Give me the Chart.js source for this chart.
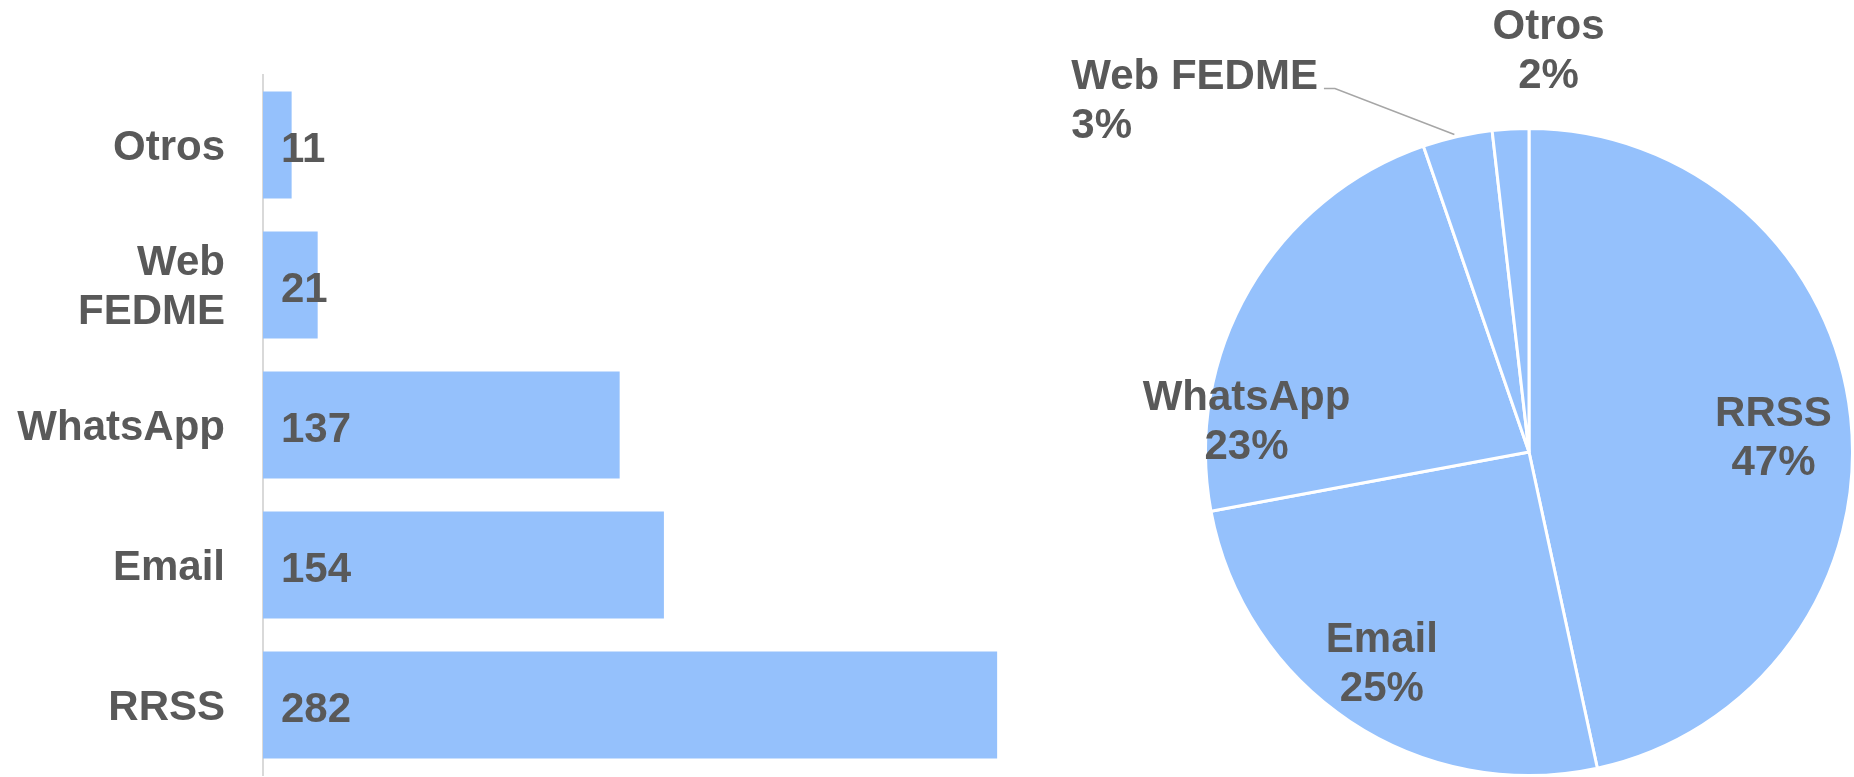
<!DOCTYPE html>
<html>
<head>
<meta charset="utf-8">
<script src="https://cdn.jsdelivr.net/npm/chart.js@4"></script>
<style>
  html, body { margin: 0; padding: 0; background: #fff; overflow: hidden; }
  #barBox { position: absolute; left: 0; top: 0; }
  #pieBox { position: absolute; left: 1050px; top: 0; }
</style>
</head>
<body>
<div id="barBox"><canvas id="barChart" width="1044" height="777"></canvas></div>
<div id="pieBox"><canvas id="pieChart" width="804" height="777"></canvas></div>
<script>
  // data
  const categories = ['RRSS', 'Email', 'WhatsApp', 'Web FEDME', 'Otros'];
  const barLabels = ['RRSS', 'Email', 'WhatsApp', ['Web', 'FEDME'], 'Otros'];
  const counts = [282, 154, 137, 21, 11];

  // styling
  const blue = '#95c1fc';
  const textGrey = '#595959';
  const labelFont = 'bold 42px "Liberation Sans", Arial, sans-serif';
  const lineGap = 49;
  const capHalf = 15; // half of cap height at 42px
  // pie label placement: fraction of radius + nudge (px)
  const pieLabelRadius = [0.76, 0.76, 0.76, 1.0, 1.0];
  const pieLabelShift = [[0, 9.5], [-11, 4.5], [-70, 91], [-386, -38], [38, -81]];
  const pieLabelAlign = ['center', 'center', 'center', 'left', 'center'];

  Chart.defaults.font.family = '"Liberation Sans", Arial, sans-serif';
  Chart.defaults.color = textGrey;

  const barValues = {
    id: 'barValues',
    afterDatasetsDraw(chart) {
      const c = chart.ctx;
      const meta = chart.getDatasetMeta(0);
      c.save();
      c.font = labelFont;
      c.fillStyle = textGrey;
      c.textAlign = 'left';
      c.textBaseline = 'alphabetic';
      meta.data.forEach((bar, i) => {
        c.fillText(String(counts[i]), bar.base + 18, bar.y + 2 + capHalf);
      });
      c.restore();
    }
  };

  new Chart(document.getElementById('barChart'), {
    type: 'bar',
    data: {
      labels: barLabels,
      datasets: [{
        data: counts,
        backgroundColor: blue,
        barPercentage: 1,
        categoryPercentage: 0.764
      }]
    },
    options: {
      indexAxis: 'y',
      responsive: false,
      animation: false,
      layout: { padding: { top: 75, bottom: 2, left: 0, right: 0 } },
      plugins: { legend: { display: false }, tooltip: { enabled: false } },
      scales: {
        x: { display: false, min: 0, max: 300 },
        y: {
          reverse: true,
          afterFit(scale) {
            scale.width = 263;
            scale.paddingTop = 0;
            scale.paddingBottom = 0;
          },
          grid: { display: false, drawTicks: false },
          border: { display: true, color: '#d9d9d9', width: 2 },
          ticks: {
            padding: 38,
            labelOffset: 3,
            color: textGrey,
            font: { size: 42, weight: 'bold', lineHeight: 1.15 }
          }
        }
      }
    },
    plugins: [barValues]
  });

  const total = counts.reduce((a, b) => a + b, 0);

  const pieLabels = {
    id: 'pieLabels',
    afterDatasetsDraw(chart) {
      const c = chart.ctx;
      const meta = chart.getDatasetMeta(0);
      c.save();
      c.font = labelFont;
      c.fillStyle = textGrey;
      c.textBaseline = 'alphabetic';
      meta.data.forEach((arc, i) => {
        const mid = (arc.startAngle + arc.endAngle) / 2;
        const r = arc.outerRadius;
        const ex = arc.x + Math.cos(mid) * r;
        const ey = arc.y + Math.sin(mid) * r;
        const ax = arc.x + Math.cos(mid) * r * pieLabelRadius[i] + pieLabelShift[i][0];
        const ay = arc.y + Math.sin(mid) * r * pieLabelRadius[i] + pieLabelShift[i][1];
        const lines = [categories[i], Math.round(counts[i] / total * 100) + '%'];
        c.textAlign = pieLabelAlign[i];
        lines.forEach((t, k) => {
          c.fillText(t, ax, ay + (k - 0.5) * lineGap + capHalf);
        });
        if (pieLabelAlign[i] === 'left') {
          // leader line to the slice
          const w = c.measureText(lines[0]).width;
          const ly = ay - 10;
          c.strokeStyle = '#a6a6a6';
          c.lineWidth = 1.5;
          c.beginPath();
          c.moveTo(ax + w + 6, ly);
          c.lineTo(ax + w + 17, ly);
          c.lineTo(ex - 3, ey - 2);
          c.stroke();
        }
      });
      c.restore();
    }
  };

  new Chart(document.getElementById('pieChart'), {
    type: 'pie',
    data: {
      labels: categories,
      datasets: [{
        data: counts,
        backgroundColor: blue,
        borderColor: '#ffffff',
        borderWidth: 3,
        hoverOffset: 0,
        offset: 0
      }]
    },
    options: {
      responsive: false,
      animation: false,
      layout: { padding: { left: 154, top: 127, right: 0, bottom: 0 } },
      plugins: { legend: { display: false }, tooltip: { enabled: false } }
    },
    plugins: [pieLabels]
  });
</script>
</body>
</html>
